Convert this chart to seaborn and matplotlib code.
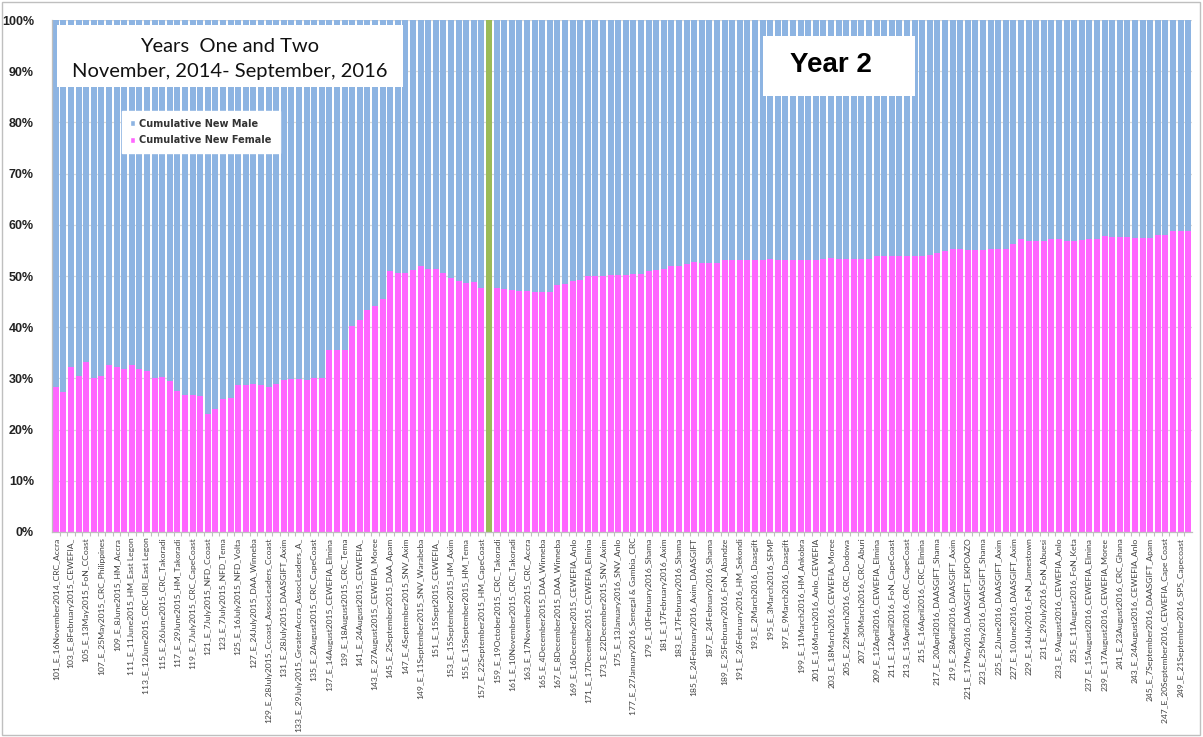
import numpy as np
import pandas as pd
import matplotlib
matplotlib.use("Agg")
import matplotlib.pyplot as plt
import seaborn as sns
from matplotlib.patches import Rectangle, Patch

# ---------------- data ----------------
bar_ids = list(range(101, 251))
divider_id = 158  # green separator between year 1 and year 2

female_pct = [
    28.4, 27.4, 32.2, 30.4, 33.3, 30.1, 30.4, 32.6, 32.3, 31.8,   # 101-110
    32.7, 31.9, 31.5, 30.1, 30.2, 29.5, 27.5, 26.8, 26.7, 26.5,   # 111-120
    23.1, 24.1, 26.0, 26.1, 28.8, 28.8, 29.0, 28.8, 28.4, 28.9,   # 121-130
    29.7, 29.8, 29.8, 29.7, 30.0, 30.1, 35.5, 35.6, 35.5, 40.2,   # 131-140
    41.5, 43.3, 44.2, 45.5, 51.0, 50.5, 50.5, 51.1, 51.9, 51.4,   # 141-150
    51.4, 50.6, 49.6, 49.0, 48.7, 48.8, 47.7, None, 47.7, 47.5,   # 151-160
    47.3, 47.1, 47.1, 46.9, 46.9, 46.9, 48.2, 48.4, 49.0, 49.2,   # 161-170
    50.0, 50.0, 50.0, 50.1, 50.1, 50.1, 50.3, 50.3, 51.0, 51.1,   # 171-180
    51.3, 52.0, 52.0, 52.4, 52.7, 52.6, 52.6, 52.6, 53.2, 53.2,   # 181-190
    53.1, 53.1, 53.2, 53.2, 53.4, 53.1, 53.1, 53.1, 53.1, 53.1,   # 191-200
    53.1, 53.4, 53.6, 53.4, 53.4, 53.4, 53.4, 53.4, 54.0, 53.9,   # 201-210
    53.9, 53.9, 54.0, 54.0, 54.0, 54.1, 54.4, 54.9, 55.3, 55.2,   # 211-220
    55.0, 55.0, 55.1, 55.3, 55.3, 55.3, 56.3, 57.2, 56.9, 56.9,   # 221-230
    56.8, 57.3, 57.2, 56.9, 56.9, 57.1, 57.2, 57.3, 57.9, 57.7,   # 231-240
    57.7, 57.6, 57.5, 57.5, 57.4, 58.1, 58.1, 58.7, 58.7, 58.7,   # 241-250
]

tick_labels = [
    "101_E_16November2014_CRC_Accra",
    "103_E_8February2015_CEWEFIA_",
    "105_E_13May2015_FoN_CCoast",
    "107_E_25May2015_CRC_Philippines",
    "109_E_8June2015_HM_Accra",
    "111_E_11June2015_HM_East Legon",
    "113_E_12June2015_CRC-URI_East Legon",
    "115_E_26June2015_CRC_Takoradi",
    "117_E_29June2015_HM_Takoradi",
    "119_E_7July2015_CRC_CapeCoast",
    "121_E_7July2015_NFD_Ccoast",
    "123_E_7July2015_NFD_Tema",
    "125_E_16July2015_NFD_Volta",
    "127_E_24July2015_DAA_Winneba",
    "129_E_28July2015_Ccoast_AssocLeaders_Ccoast",
    "131_E_28July2015_DAASGIFT_Axim",
    "133_E_29July2015_GreaterAccra_AssocLeaders_A_",
    "135_E_2August2015_CRC_CapeCoast",
    "137_E_14August2015_CEWEFIA_Elmina",
    "139_E_18August2015_CRC_Tema",
    "141_E_24August2015_CEWEFIA_",
    "143_E_27August2015_CEWEFIA_Moree",
    "145_E_2September2015_DAA_Apam",
    "147_E_4September2015_SNV_Axim",
    "149_E_11September2015_SNV_Warabeba",
    "151_E_15Sept2015_CEWEFIA_",
    "153_E_15September2015_HM_Axim",
    "155_E_15September2015_HM_Tema",
    "157_E_22September2015_HM_CapeCoast",
    "159_E_19October2015_CRC_Takoradi",
    "161_E_10November2015_CRC_Takoradi",
    "163_E_17November2015_CRC_Accra",
    "165_E_4December2015_DAA_Winneba",
    "167_E_8December2015_DAA_Winneba",
    "169_E_16December2015_CEWEFIA_Anlo",
    "171_E_17December2015_CEWEFIA_Elmina",
    "173_E_22December2015_SNV_Axim",
    "175_E_13January2016_SNV_Anlo",
    "177_E_27January2016_Senegal & Gambia_CRC",
    "179_E_10February2016_Shama",
    "181_E_17February2016_Axim",
    "183_E_17February2016_Shama",
    "185_E_24February2016_Axim_DAASGIFT",
    "187_E_24February2016_Shama",
    "189_E_25February2016_FoN_Abandze",
    "191_E_26February2016_HM_Sekondi",
    "193_E_2March2016_Daasgift",
    "195_E_3March2016_SFMP",
    "197_E_9March2016_Daasgift",
    "199_E_11March2016_HM_Ankobra",
    "201_E_16March2016_Anlo_CEWEFIA",
    "203_E_18March2016_CEWEFIA_Moree",
    "205_E_22March2016_CRC_Dodowa",
    "207_E_30March2016_CRC_Aburi",
    "209_E_12April2016_CEWEFIA_Elmina",
    "211_E_12April2016_FoN_CapeCoast",
    "213_E_15April2016_CRC_CapeCoast",
    "215_E_16April2016_CRC_Elmina",
    "217_E_20April2016_DAASGIFT_Shama",
    "219_E_28April2016_DAASGIFT_Axim",
    "221_E_17May2016_DAASGIFT_EKPOAZO",
    "223_E_25May2016_DAASGIFT_Shama",
    "225_E_2June2016_DAASGIFT_Axim",
    "227_E_10June2016_DAASGIFT_Axim",
    "229_E_14July2016_FoN_Jamestown",
    "231_E_29July2016_FoN_Abuesi",
    "233_E_9August2016_CEWEFIA_Anlo",
    "235_E_11August2016_FoN_Keta",
    "237_E_15August2016_CEWEFIA_Elmina",
    "239_E_17August2016_CEWEFIA_Moree",
    "241_E_23August2016_CRC_Ghana",
    "243_E_24August2016_CEWEFIA_Anlo",
    "245_E_7September2016_DAASGIFT_Apam",
    "247_E_20September2016_CEWEFIA_Cape Coast",
    "249_E_21September2016_SPS_Capecoast",
]
tick_ids = [int(s.split("_")[0]) for s in tick_labels]

series_names = ["Cumulative New Male", "Cumulative New Female"]
y_ticks = [0, 10, 20, 30, 40, 50, 60, 70, 80, 90, 100]

# ---------------- style ----------------
BLUE = "#8DB4E2"
PINK = "#FF66FF"
GREEN = "#9BBB59"
GRID = "#D9D9D9"

sns.set_theme(style="white")
plt.rcParams["font.family"] = ["DejaVu Sans"]

W, H = 1203, 737
fig = plt.figure(figsize=(W / 100, H / 100), dpi=100)
fig.patch.set_facecolor("white")


def fx(x):
    return x / W


def fy(y):
    return 1 - y / H


ax = fig.add_axes([fx(52), fy(532), (1192 - 52) / W, (532 - 20) / H])

df = pd.DataFrame({"bar": bar_ids, "female": female_pct}).astype({"female": float})
df["total"] = np.where(df["female"].isna(), np.nan, 100.0)
div = pd.DataFrame({"bar": [divider_id], "value": [100.0]})

common = dict(native_scale=True, width=0.8, saturation=1, errorbar=None,
              linewidth=0, ax=ax)
sns.barplot(data=df, x="bar", y="total", color=BLUE, **common)
sns.barplot(data=df, x="bar", y="female", color=PINK, **common)
sns.barplot(data=div, x="bar", y="value", color=GREEN, **common)

ax.set_xlim(bar_ids[0] - 0.5, bar_ids[-1] + 0.5)
ax.set_ylim(0, 100)
ax.set_xlabel("")
ax.set_ylabel("")

ax.set_yticks(y_ticks)
ax.set_yticklabels([f"{v}%" for v in y_ticks], fontsize=9, fontweight="bold",
                   color="#222222", family=["Liberation Sans", "DejaVu Sans"])
ax.tick_params(axis="y", length=0, pad=13)

ax.set_xticks(tick_ids)
ax.set_xticklabels(tick_labels, rotation=90, fontsize=6.1, color="#404040",
                   family=["Lato", "DejaVu Sans"])
ax.set_xticks([b + 0.5 for b in bar_ids[:-1]], minor=True)
ax.tick_params(axis="x", which="major", length=0, pad=4)
ax.tick_params(axis="x", which="minor", length=3, color="#BFBFBF", width=0.8,
               bottom=True)

ax.set_axisbelow(True)
ax.yaxis.grid(True, color=GRID, linewidth=0.9)
ax.xaxis.grid(False)
for s in ["top", "right"]:
    ax.spines[s].set_visible(False)
for s in ["left", "bottom"]:
    ax.spines[s].set_color("#BFBFBF")
    ax.spines[s].set_linewidth(0.9)

# legend
handles = [Patch(facecolor=BLUE, label=series_names[0]),
           Patch(facecolor=PINK, label=series_names[1])]
leg = ax.legend(handles=handles, loc="upper left",
                bbox_to_anchor=(fx(117), fy(106)), bbox_transform=fig.transFigure,
                frameon=True, fancybox=False, framealpha=1, edgecolor="white",
                handlelength=0.6, handleheight=0.6, handletextpad=0.4,
                borderpad=0.8, labelspacing=0.7,
                prop={"size": 7, "weight": "bold", "family": "DejaVu Sans"})
for t in leg.get_texts():
    t.set_color("#333333")

# title box
fig.patches.append(Rectangle((fx(57), fy(87)), (403 - 57) / W, (87 - 25) / H,
                             transform=fig.transFigure, facecolor="white",
                             edgecolor="none", zorder=3))
fig.text(fx(230), fy(46), "Years  One and Two", ha="center", va="center",
         fontsize=14.5, family=["Lato", "DejaVu Sans"], color="#111111", zorder=4)
fig.text(fx(230), fy(72), "November, 2014- September, 2016", ha="center",
         va="center", fontsize=14.5, family=["Lato", "DejaVu Sans"],
         color="#111111", zorder=4)

# Year 2 box
fig.patches.append(Rectangle((fx(763), fy(96)), (915 - 763) / W, (96 - 36) / H,
                             transform=fig.transFigure, facecolor="white",
                             edgecolor="none", zorder=3))
fig.text(fx(831), fy(65), "Year 2", ha="center", va="center", fontsize=20,
         fontweight="bold", family=["Liberation Sans", "DejaVu Sans"],
         color="black", zorder=4)

# outer frame
fig.patches.append(Rectangle((fx(2), fy(735)), (1200 - 2) / W, (735 - 2) / H,
                             transform=fig.transFigure, facecolor="none",
                             edgecolor="#BFBFBF", linewidth=1.0, zorder=5))

fig.savefig("out.png", dpi=100)
